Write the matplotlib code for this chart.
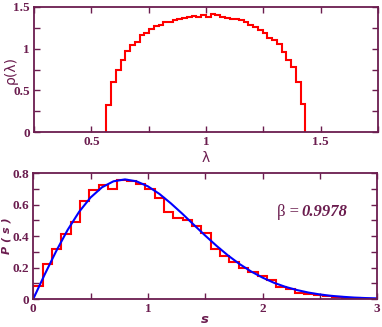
import numpy as np
import matplotlib.pyplot as plt
from matplotlib.ticker import MultipleLocator, FuncFormatter

# eigenvalue density histogram (top panel)
lam_start = 0.566
lam_width = 0.02064
rho = [0.33, 0.60, 0.75, 0.87, 0.97, 1.04, 1.08, 1.16, 1.19, 1.23, 1.27,
       1.28, 1.32, 1.32, 1.34, 1.36, 1.37, 1.38, 1.39, 1.38, 1.40, 1.38,
       1.41, 1.40, 1.38, 1.37, 1.36, 1.35, 1.34, 1.32, 1.28, 1.26, 1.22,
       1.19, 1.13, 1.11, 1.06, 0.96, 0.87, 0.78, 0.60, 0.34]

# level spacing histogram (bottom panel)
s_width = 0.0815
ps_hist = [0.08, 0.22, 0.32, 0.41, 0.49, 0.62, 0.69, 0.725, 0.70, 0.755,
           0.75, 0.73, 0.70, 0.64, 0.55, 0.515, 0.50, 0.465, 0.42, 0.32,
           0.275, 0.235, 0.20, 0.17, 0.145, 0.12, 0.075, 0.065, 0.04, 0.032,
           0.025, 0.017, 0.012, 0.008, 0.005, 0.003, 0.002]

# fitted curve, read at s = 0, 0.1, ..., 3.0
s_fit = [0.0, 0.1, 0.2, 0.3, 0.4, 0.5, 0.6, 0.7, 0.8, 0.9, 1.0, 1.1, 1.2,
         1.3, 1.4, 1.5, 1.6, 1.7, 1.8, 1.9, 2.0, 2.1, 2.2, 2.3, 2.4, 2.5,
         2.6, 2.7, 2.8, 2.9, 3.0]
ps_fit = [0.0, 0.156, 0.304, 0.439, 0.554, 0.645, 0.710, 0.748, 0.760,
          0.748, 0.716, 0.668, 0.608, 0.542, 0.472, 0.403, 0.337, 0.276,
          0.222, 0.175, 0.136, 0.103, 0.077, 0.057, 0.041, 0.029, 0.020,
          0.014, 0.009, 0.006, 0.004]

beta_text = '0.9978'

frame = '#6b1d4f'
plt.rcParams['font.family'] = ['Liberation Serif', 'DejaVu Serif']

fig = plt.figure(figsize=(3.82, 3.27), dpi=100)
ax1 = fig.add_axes([0.089, 0.5963, 0.9005, 0.3823])
ax2 = fig.add_axes([0.087, 0.0856, 0.9005, 0.385])

fmt = FuncFormatter(lambda v, p: '%g' % round(v, 3))


def style(ax, xmaj, xmin, ymaj, ymin):
    for sp in ax.spines.values():
        sp.set_color(frame)
        sp.set_linewidth(1.3)
    ax.xaxis.set_major_locator(MultipleLocator(xmaj))
    ax.xaxis.set_minor_locator(MultipleLocator(xmin))
    ax.yaxis.set_major_locator(MultipleLocator(ymaj))
    ax.yaxis.set_minor_locator(MultipleLocator(ymin))
    ax.xaxis.set_major_formatter(fmt)
    ax.yaxis.set_major_formatter(fmt)
    ax.tick_params(which='both', direction='in', top=True, right=True,
                   length=4, width=1, color=frame, labelcolor=frame,
                   labelsize=9.5, pad=3)
    for lab in ax.get_xticklabels() + ax.get_yticklabels():
        lab.set_fontweight('bold')


edges1 = lam_start + lam_width * np.arange(len(rho) + 1)
ax1.stairs(rho, edges1, color='red', lw=1.5, baseline=0)
ax1.set_xlim(0.25, 1.75)
ax1.set_ylim(0, 1.5)
style(ax1, 0.5, 0.25, 0.5, 0.25)
ax1.set_xlabel('λ', color=frame, fontsize=10, family='DejaVu Sans')
ax1.set_ylabel('ρ(λ)', color=frame, fontsize=10, family='DejaVu Sans')
ax1.xaxis.set_label_coords(0.5, -0.155)
ax1.yaxis.set_label_coords(-0.047, 0.5)

edges2 = s_width * np.arange(len(ps_hist) + 1)
ax2.stairs(ps_hist, edges2, color='red', lw=1.5, baseline=0)
ax2.plot(s_fit, ps_fit, color='blue', lw=1.5)
ax2.set_xlim(0, 3)
ax2.set_ylim(0, 0.8)
style(ax2, 1, 0.5, 0.2, 0.1)
ax2.set_xlabel('s', color=frame, fontsize=9.5, fontweight='bold',
               style='italic', family='DejaVu Sans')
ax2.set_ylabel('P ( s )', color=frame, fontsize=8, fontweight='bold',
               style='italic', family='DejaVu Sans')
ax2.xaxis.set_label_coords(0.5, -0.112)
ax2.yaxis.set_label_coords(-0.064, 0.5)
t_beta = ax2.text(0.709, 0.69, 'β =', transform=ax2.transAxes, color=frame,
                  fontsize=12, ha='left', va='center')
ax2.annotate(beta_text, xy=(1, 0.5), xycoords=t_beta, xytext=(2, 0),
             textcoords='offset points', color=frame, fontsize=12,
             fontweight='bold', style='italic', ha='left', va='center')

fig.savefig('out.png', dpi=100)
